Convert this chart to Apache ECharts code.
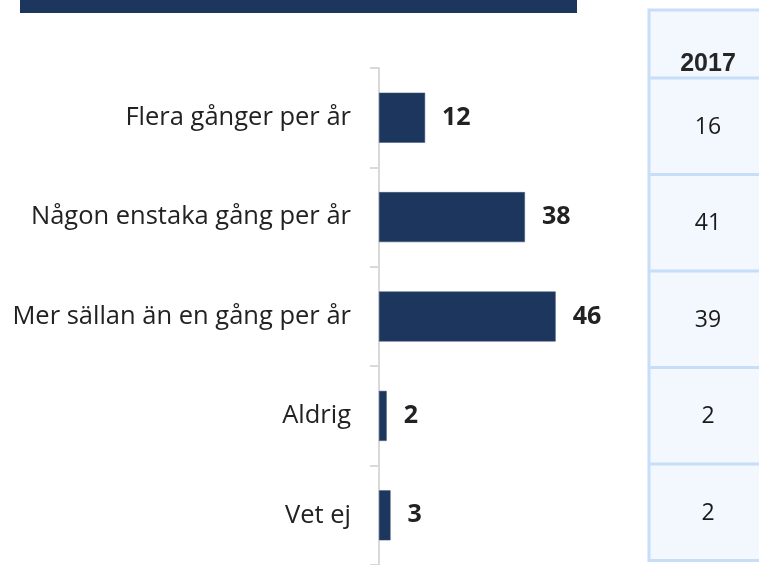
<!DOCTYPE html>
<html>
<head>
<meta charset="utf-8">
<script src="https://cdn.jsdelivr.net/npm/echarts@6/dist/echarts.min.js"></script>
<style>
  html, body { margin: 0; padding: 0; background: #fff; }
  #chart { width: 759px; height: 565px; }
</style>
</head>
<body>
<div id="chart"></div>
<script>
  // data
  var categories = ['Flera gånger per år', 'Någon enstaka gång per år', 'Mer sällan än en gång per år', 'Aldrig', 'Vet ej'];
  var values = [12, 38, 46, 2, 3];
  var tableHeader = '2017';
  var tableValues = [16, 41, 39, 2, 2];

  var navy = '#1c365e';
  var myChart = echarts.init(document.getElementById('chart'));

  // tabellen till höger
  var tblX = 649, tblTop = 10, headBottom = 78, rowH = 96.5, tblW = 130;
  var graphics = [
    { type: 'rect', shape: { x: 20, y: -2, width: 557, height: 15 }, style: { fill: navy } },
    { type: 'rect', shape: { x: tblX, y: tblTop, width: tblW, height: headBottom - tblTop + rowH * tableValues.length },
      style: { fill: '#f3f7fe', stroke: '#c7ddf8', lineWidth: 3 } },
    { type: 'text', x: 708, y: 64, style: { text: tableHeader, font: 'bold 25px "Liberation Sans", Arial', fill: '#262626', align: 'center', verticalAlign: 'middle' } }
  ];
  tableValues.forEach(function (v, i) {
    var y0 = headBottom + rowH * i;
    graphics.push({ type: 'line', shape: { x1: tblX, y1: y0, x2: tblX + tblW, y2: y0 }, style: { stroke: '#c7ddf8', lineWidth: 3 } });
    graphics.push({ type: 'text', x: 708, y: y0 + rowH / 2 + 1, style: { text: String(v), font: '23px "Open Sans"', fill: '#1a1a1a', align: 'center', verticalAlign: 'middle' } });
  });

  myChart.setOption({
    animation: false,
    grid: { left: 379, top: 68, width: 192, bottom: -3, containLabel: false },
    xAxis: {
      type: 'value', min: 0, max: 50, show: false
    },
    yAxis: {
      type: 'category',
      inverse: true,
      data: categories,
      axisLine: { lineStyle: { color: '#d9d9d9', width: 2 } },
      axisTick: { show: true, length: 9, lineStyle: { color: '#d9d9d9', width: 2 } },
      axisLabel: { color: '#222', fontSize: 25.5, fontFamily: 'Open Sans', margin: 28 },
      splitLine: { show: false }
    },
    series: [{
      type: 'bar',
      data: values,
      barWidth: 50,
      itemStyle: { color: navy, borderColor: '#3d5275', borderWidth: 0.5 },
      label: {
        show: true, position: 'right', distance: 17,
        color: '#222', fontSize: 25, fontWeight: 'bold', fontFamily: 'Open Sans'
      }
    }],
    graphic: graphics
  });
</script>
</body>
</html>
